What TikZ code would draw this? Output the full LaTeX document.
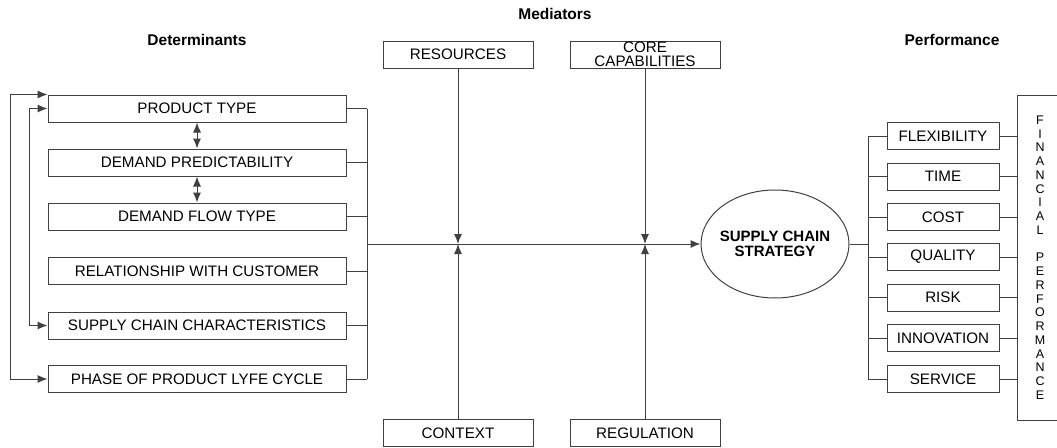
\documentclass[tikz,border=0pt]{standalone}
\usepackage{fontspec}
\setmainfont{Liberation Sans}
\usetikzlibrary{shapes.geometric,arrows.meta}

\begin{document}
\begin{tikzpicture}[x=1pt,y=-1pt,line width=1pt,draw=black!75,
    tip/.style={-{Latex[length=10pt,width=8pt]}},
    twotip/.style={{Latex[length=10pt,width=8pt]}-{Latex[length=10pt,width=8pt]}}]

      \useasboundingbox (0,0) rectangle (1057,447);

      % headings
      \begin{scope}[every node/.style={font=\bfseries\fontsize{15.5}{16}\selectfont}]
        \node (hdet)  at (197,40)  {Determinants};
        \node (hmed)  at (555,14)  {Mediators};
        \node (hperf) at (952,40)  {Performance};
      \end{scope}

      % determinants
      \begin{scope}[every node/.style={draw,rectangle,minimum width=298pt,minimum height=27pt,inner sep=0pt,font=\fontsize{15.2}{16}\selectfont}]
        \node (pt)   at (197,108.5) {PRODUCT TYPE};
        \node (dp)   at (197,162.5) {DEMAND PREDICTABILITY};
        \node (dft)  at (197,216.5) {DEMAND FLOW TYPE};
        \node (rwc)  at (197,271)   {RELATIONSHIP WITH CUSTOMER};
        \node (scc)  at (197,325.5) {SUPPLY CHAIN CHARACTERISTICS};
        \node (pplc) at (197,379)   {PHASE OF PRODUCT LYFE CYCLE};
      \end{scope}

      % mediators
      \begin{scope}[every node/.style={draw,rectangle,minimum width=150pt,minimum height=27pt,inner sep=0pt,align=center,font=\fontsize{15.2}{13.5}\selectfont}]
        \node (res) at (458,54.5) {RESOURCES};
        \node (cap) at (645,54.5) {CORE\\CAPABILITIES};
        \node (ctx) at (458,433)  {CONTEXT};
        \node (reg) at (645,433)  {REGULATION};
      \end{scope}

      \node[draw,ellipse,minimum width=148pt,minimum height=108pt,inner sep=0pt] (scs) at (775,244) {};
      \node[align=center,font=\bfseries\fontsize{15}{15}\selectfont] (scslbl) at (scs.center) {SUPPLY CHAIN\\STRATEGY};

      % performance
      \begin{scope}[every node/.style={draw,rectangle,minimum width=112pt,minimum height=27pt,inner sep=0pt,font=\fontsize{15.2}{16}\selectfont}]
        \node (flex)  at (943,136)   {FLEXIBILITY};
        \node (time)  at (943,176.5) {TIME};
        \node (cost)  at (943,217)   {COST};
        \node (qual)  at (943,257)   {QUALITY};
        \node (risk)  at (943,297.5) {RISK};
        \node (innov) at (943,338)   {INNOVATION};
        \node (serv)  at (943,379)   {SERVICE};
      \end{scope}

      \node[draw,rectangle,minimum width=80pt,minimum height=325pt,inner sep=0pt] (fin) at (1057,257.5) {};
      \node[align=center,font=\fontsize{12.5}{13.75}\selectfont,inner sep=0pt] (finlbl) at (1040,257.5)
        {F\\I\\N\\A\\N\\C\\I\\A\\L\\ \\P\\E\\R\\F\\O\\R\\M\\A\\N\\C\\E};

      \coordinate (lbus) at (367,244);
      \coordinate (m1)   at (458,244);
      \coordinate (m2)   at (645,244);
      \coordinate (rbus) at (868,244);

      % left bus
      \foreach \n in {pt,dp,dft,rwc,scc,pplc}
        \draw (\n.east) -- (\n.east -| lbus);
      \draw (pt.east -| lbus) -- (pplc.east -| lbus);
      \draw[tip] (lbus) -- (scs.west);

      % feedback loops
      \draw[twotip] (pt.north west) -- ++(-37,0) |- (pplc.west);
      \draw[twotip] (pt.west) -- ++(-18,0) |- (scc.west);
      \draw[twotip] (pt.south) -- (dp.north);
      \draw[twotip] (dp.south) -- (dft.north);

      % mediators into the main line
      \draw[tip] (res) -- (m1);
      \draw[tip] (ctx) -- (m1);
      \draw[tip] (cap) -- (m2);
      \draw[tip] (reg) -- (m2);

      % right bus
      \draw (scs.east) -- (rbus);
      \draw (flex.west -| rbus) -- (serv.west -| rbus);
      \foreach \n in {flex,time,cost,qual,risk,innov,serv} {
        \draw (\n.west) -- (\n.west -| rbus);
        \draw (\n.east) -- (\n.east -| fin.west);
      }

    \end{tikzpicture}
\end{document}
